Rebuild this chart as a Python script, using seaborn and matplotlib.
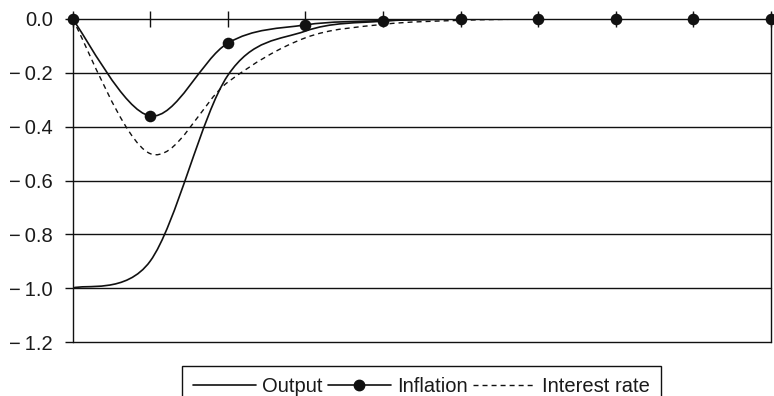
import numpy as np
import matplotlib
matplotlib.use("Agg")
import matplotlib.pyplot as plt
from matplotlib.path import Path
from matplotlib.patches import PathPatch
from matplotlib.lines import Line2D
from matplotlib.ticker import FuncFormatter, MultipleLocator
import seaborn as sns

# Impulse responses by period
periods = [0, 1, 2, 3, 4, 5, 6, 7, 8, 9]
output = [-1.0, -0.90, -0.21, -0.045, -0.008, 0.0, 0.0, 0.0, 0.0, 0.0]
inflation = [0.0, -0.36, -0.09, -0.022, -0.006, 0.0, 0.0, 0.0, 0.0, 0.0]
interest_rate = [0.0, -0.50, -0.235, -0.07, -0.02, -0.005, 0.0, 0.0, 0.0, 0.0]
series_labels = ["Output", "Inflation", "Interest rate"]
y_ticks = [0.0, -0.2, -0.4, -0.6, -0.8, -1.0, -1.2]

sns.set_theme(style="white")
plt.rcParams["font.family"] = ["Liberation Sans", "DejaVu Sans"]

W, H = 774, 396
fig = plt.figure(figsize=(W / 100, H / 100), dpi=100)
ax = fig.add_axes([72.5 / W, 1 - 342 / H, (771 - 72.5) / W, 323 / H])
ax.set_xlim(0, 9)
ax.set_ylim(-1.2, 0)

INK = "#111111"


def smooth_path(ax, xs, ys):
    """Bezier path through the points, tangents limited per segment length."""
    pts = ax.transData.transform(np.column_stack([xs, ys]).astype(float))
    n = len(pts)
    verts = [pts[0]]
    codes = [Path.MOVETO]
    f = 1 / 6
    for i in range(n - 1):
        p0 = pts[i - 1] if i > 0 else pts[i]
        p1 = pts[i]
        p2 = pts[i + 1]
        p3 = pts[i + 2] if i + 2 < n else pts[i + 1]
        d12 = np.hypot(*(p2 - p1))
        d02 = np.hypot(*(p2 - p0))
        d13 = np.hypot(*(p3 - p1))
        f1 = f if d02 * f <= d12 / 2 else d12 / (2 * d02)
        f2 = f if d13 * f <= d12 / 2 else d12 / (2 * d13)
        b1 = p1 + (p2 - p0) * f1
        b2 = p2 - (p3 - p1) * f2
        verts += [b1, b2, p2]
        codes += [Path.CURVE4] * 3
    verts = ax.transData.inverted().transform(np.array(verts))
    return Path(verts, codes)


# horizontal grid
for yv in y_ticks[1:]:
    ax.axhline(yv, color=INK, lw=1.0, zorder=1, clip_on=False)

dash = (0, (3.6, 2.9))
ax.add_patch(PathPatch(smooth_path(ax, periods, output), fill=False,
                       ec=INK, lw=1.2, zorder=3))
ax.add_patch(PathPatch(smooth_path(ax, periods, interest_rate), fill=False,
                       ec=INK, lw=1.0, ls=dash, zorder=3))
ax.add_patch(PathPatch(smooth_path(ax, periods, inflation), fill=False,
                       ec=INK, lw=1.2, zorder=4))
sns.scatterplot(x=periods, y=inflation, ax=ax, color=INK, s=70,
                edgecolor=INK, linewidth=0, zorder=5, clip_on=False,
                legend=False)

# axes: x axis crosses at zero, frame on the left and right
ax.spines["top"].set_visible(False)
ax.spines["bottom"].set_position(("data", 0))
for s in ["left", "right", "bottom"]:
    ax.spines[s].set_color(INK)
    ax.spines[s].set_linewidth(1.0)
    ax.spines[s].set_zorder(2)

ax.xaxis.set_major_locator(MultipleLocator(1))
ax.tick_params(axis="x", which="both", direction="inout", length=11,
               width=1.0, color=INK, labelbottom=False, bottom=True, top=False)
ax.set_yticks(y_ticks)
ax.yaxis.set_major_formatter(FuncFormatter(
    lambda v, p: f"\u2212\u2009{abs(v):.1f}" if abs(v) > 1e-9 else "0.0"))
ax.tick_params(axis="y", direction="out", length=6, width=1.0, color=INK,
               labelsize=14.5, pad=8, labelcolor="#1a1a1a", left=True, right=False)
ax.set_xlabel("")
ax.set_ylabel("")

handles = [
    Line2D([], [], color=INK, lw=1.2),
    Line2D([], [], color=INK, lw=1.2, marker="o", markersize=7.5),
    Line2D([], [], color=INK, lw=1.0, ls=dash),
]
leg = fig.legend(handles, series_labels, loc="upper center",
                 bbox_to_anchor=(421.5 / W, 1 - 366 / H), ncol=3,
                 frameon=True, fancybox=False, shadow=False, edgecolor=INK,
                 framealpha=1, fontsize=14.5, handlelength=3.1,
                 handletextpad=0.3, columnspacing=0.3, borderpad=0.55,
                 borderaxespad=0)
leg.get_frame().set_linewidth(1.0)
for t in leg.get_texts():
    t.set_color("#1a1a1a")

fig.savefig("out.png", dpi=100)
